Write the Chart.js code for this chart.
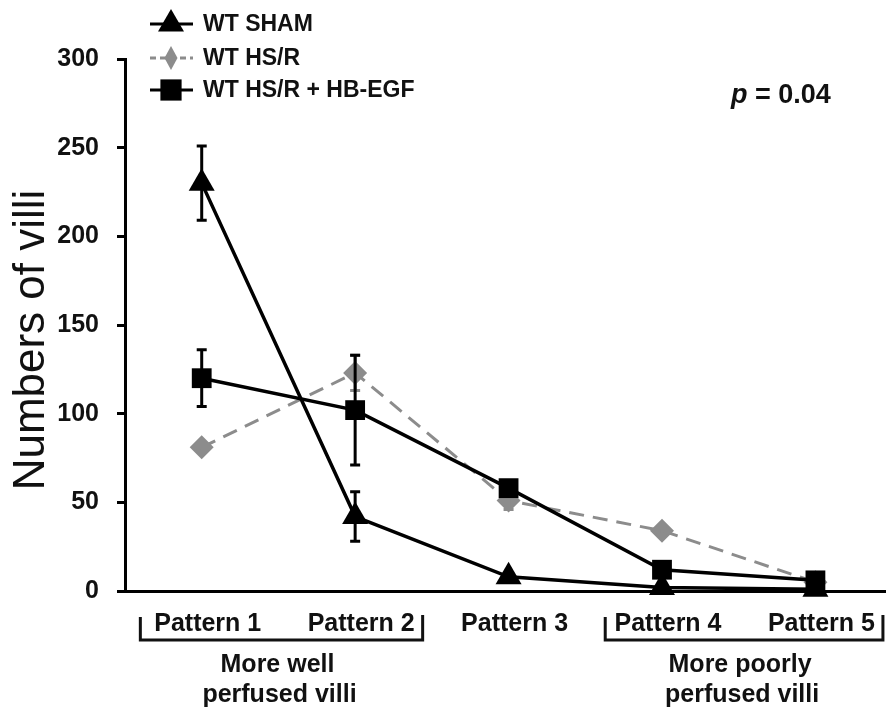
<!DOCTYPE html>
<html>
<head>
<meta charset="utf-8">
<title>Numbers of villi</title>
<script src="https://cdn.jsdelivr.net/npm/chart.js@4.4.1/dist/chart.umd.min.js"></script>
<style>
    html, body { margin: 0; padding: 0; background: #fff; }
    canvas { display: block; }
</style>
</head>
<body>
<canvas id="villiChart" width="886" height="711"></canvas>
<script>
// --- DATA ---
const patterns = ['Pattern 1', 'Pattern 2', 'Pattern 3', 'Pattern 4', 'Pattern 5'];
const shamValues = [230, 42, 8, 2, 1];
const shamErrors = [21, 14, 2, 1, 0];
const hsrValues = [81, 123, 51, 34, 5];
const hsrErrors = [2, 10, 5, 2, 1];
const egfValues = [120, 102, 58, 12, 6];
const egfErrors = [16, 31, 4, 2, 1];
const yTicks = [0, 50, 100, 150, 200, 250, 300];
const groupSpans = [[0, 1], [3, 4]];
const groupLabels = [['More well', 'perfused villi'], ['More poorly', 'perfused villi']];

const FONT = 'Arial, "Liberation Sans", Helvetica, sans-serif';
const INK = '#111';
const GREY = '#8c8c8c';

function toPoints(values) {
    return values.map((v, i) => ({ x: i, y: v }));
}

// --- ERROR BARS (drawn with each dataset so layering follows the lines) ---
const errorBars = {
    id: 'errorBars',
    afterDatasetDraw(chart, args) {
        const ds = chart.data.datasets[args.index];
        if (!ds.errors) return;
        const ctx = chart.ctx;
        const yScale = chart.scales.y;
        ctx.save();
        ctx.strokeStyle = ds.borderColor;
        ctx.lineWidth = 3;
        ctx.setLineDash([]);
        args.meta.data.forEach((pt, i) => {
            const err = ds.errors[i];
            if (!err) return;
            const v = ds.data[i].y;
            const top = yScale.getPixelForValue(v + err);
            const bot = yScale.getPixelForValue(v - err);
            ctx.beginPath();
            ctx.moveTo(pt.x, top);
            ctx.lineTo(pt.x, bot);
            ctx.moveTo(pt.x - 5, top);
            ctx.lineTo(pt.x + 5, top);
            ctx.moveTo(pt.x - 5, bot);
            ctx.lineTo(pt.x + 5, bot);
            ctx.stroke();
        });
        ctx.restore();
    }
};

// --- LEGEND, AXIS TITLE, P VALUE, BRACKETS ---
const annotations = {
    id: 'annotations',
    afterDraw(chart) {
        const ctx = chart.ctx;
        const x = chart.scales.x;

        ctx.save();
        ctx.fillStyle = INK;

        // y axis title
        ctx.save();
        ctx.translate(44, 340);
        ctx.rotate(-Math.PI / 2);
        ctx.font = '44px ' + FONT;
        ctx.textAlign = 'center';
        ctx.textBaseline = 'alphabetic';
        ctx.fillText('Numbers of villi', 0, 0);
        ctx.restore();

        // legend
        const rows = [24, 58, 90];
        ctx.font = 'bold 23px ' + FONT;
        ctx.textBaseline = 'middle';
        ctx.textAlign = 'left';
        const drawLegendPoint = Chart.helpers.drawPointLegend || ((c, o, px, py) => Chart.helpers.drawPoint(c, o, px, py));
        chart.data.datasets.slice().sort((a, b) => a.legendIndex - b.legendIndex).forEach((ds, i) => {
            const y = rows[i];
            ctx.save();
            ctx.strokeStyle = ds.borderColor;
            ctx.lineWidth = 3;
            ctx.setLineDash(ds.borderDash ? [6, 4] : []);
            ctx.beginPath();
            ctx.moveTo(150, y);
            ctx.lineTo(193, y);
            ctx.stroke();
            ctx.restore();
            ctx.fillStyle = ds.pointBackgroundColor;
            ctx.strokeStyle = ds.pointBackgroundColor;
            drawLegendPoint(ctx, {
                pointStyle: ds.pointStyle,
                radius: ds.legendRadius,
                rotation: 0,
                borderWidth: 0
            }, 171, y, ds.legendWidth);
            ctx.fillStyle = INK;
            ctx.fillText(ds.label, 203, y + 1);
        });

        // p value
        ctx.textBaseline = 'alphabetic';
        ctx.font = 'italic bold 27px ' + FONT;
        ctx.fillText('p', 731, 103);
        const pw = ctx.measureText('p ').width;
        ctx.font = 'bold 27px ' + FONT;
        ctx.fillText('= 0.04', 731 + pw, 103);

        // brackets under the category labels
        ctx.strokeStyle = INK;
        ctx.lineWidth = 3;
        ctx.font = 'bold 25px ' + FONT;
        ctx.textAlign = 'center';
        const pads = [[-0.4, 0.44], [-0.37, 0.44]];
        groupSpans.forEach((span, g) => {
            const l = x.getPixelForValue(span[0] + pads[g][0]);
            const r = Math.min(x.getPixelForValue(span[1] + pads[g][1]), chart.width - 2);
            ctx.beginPath();
            ctx.moveTo(l, 617);
            ctx.lineTo(l, 640);
            ctx.lineTo(r, 640);
            ctx.lineTo(r, 615);
            ctx.stroke();
            const mid = (l + r) / 2;
            ctx.fillText(groupLabels[g][0], mid - 4, 672);
            ctx.fillText(groupLabels[g][1], mid - 2, 702);
        });

        ctx.restore();
    }
};

new Chart(document.getElementById('villiChart'), {
    type: 'line',
    data: {
        datasets: [
            {
                label: 'WT HS/R',
                legendIndex: 1,
                data: toPoints(hsrValues),
                errors: hsrErrors,
                borderColor: GREY,
                borderWidth: 3,
                borderDash: [15, 9],
                pointStyle: 'rectRot',
                pointRadius: 12,
                legendRadius: 12,
                legendWidth: 13,
                pointBackgroundColor: GREY,
                pointBorderColor: GREY,
                pointBorderWidth: 0,
                order: 3
            },
            {
                label: 'WT SHAM',
                legendIndex: 0,
                data: toPoints(shamValues),
                errors: shamErrors,
                borderColor: '#000',
                borderWidth: 3.5,
                pointStyle: 'triangle',
                pointRadius: 15,
                legendRadius: 15,
                pointBackgroundColor: '#000',
                pointBorderColor: '#000',
                pointBorderWidth: 0,
                order: 2
            },
            {
                label: 'WT HS/R + HB-EGF',
                legendIndex: 2,
                data: toPoints(egfValues),
                errors: egfErrors,
                borderColor: '#000',
                borderWidth: 3.5,
                pointStyle: 'rect',
                pointRadius: 14,
                legendRadius: 15,
                pointBackgroundColor: '#000',
                pointBorderColor: '#000',
                pointBorderWidth: 0,
                order: 1
            }
        ]
    },
    options: {
        responsive: false,
        animation: false,
        devicePixelRatio: 1,
        clip: false,
        layout: { autoPadding: false, padding: { top: 59, right: 0, left: 0, bottom: 0 } },
        plugins: {
            legend: { display: false },
            tooltip: { enabled: false }
        },
        elements: { line: { tension: 0 } },
        scales: {
            x: {
                type: 'linear',
                min: -0.5,
                max: 4.46,
                afterBuildTicks: (scale) => { scale.ticks = patterns.map((_, i) => ({ value: i })); },
                afterFit: (scale) => {
                    scale.height = 120;
                    scale.paddingLeft = 0;
                    scale.paddingRight = 0;
                },
                grid: { display: false, drawTicks: false },
                border: { color: '#000', width: 3 },
                ticks: {
                    autoSkip: false,
                    maxRotation: 0,
                    padding: 18,
                    labelOffset: 6,
                    color: INK,
                    font: { family: FONT, size: 25, weight: 'bold' },
                    callback: (value) => patterns[value]
                }
            },
            y: {
                min: 0,
                max: 300,
                afterBuildTicks: (scale) => { scale.ticks = yTicks.map(v => ({ value: v })); },
                afterFit: (scale) => { scale.width = 125; },
                grid: { drawOnChartArea: false, drawTicks: true, tickLength: 8, color: '#000', lineWidth: 3 },
                border: { color: '#000', width: 3 },
                ticks: {
                    padding: 18,
                    color: INK,
                    font: { family: FONT, size: 25, weight: 'bold' }
                }
            }
        }
    },
    plugins: [errorBars, annotations]
});
</script>
</body>
</html>
